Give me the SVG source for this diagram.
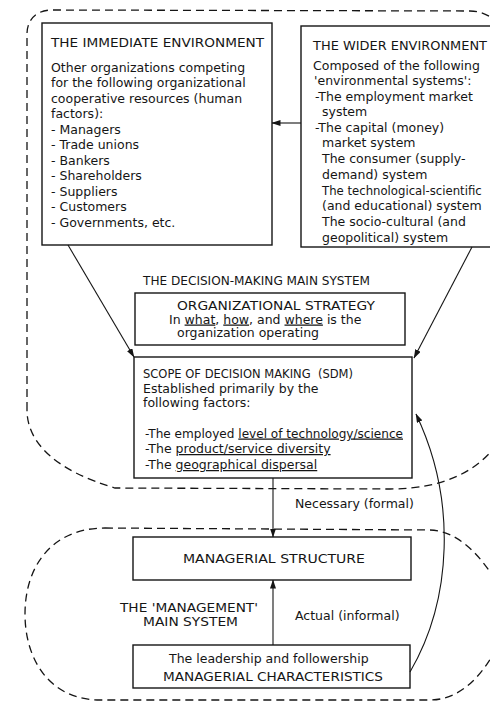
<svg xmlns="http://www.w3.org/2000/svg" width="490" height="704" viewBox="0 0 490 704">
  <defs>
    <marker id="arrow" markerWidth="9" markerHeight="6" refX="8.5" refY="3" orient="auto" markerUnits="userSpaceOnUse">
      <path d="M0,0 L9,3 L0,6 Z" fill="#151515"/>
    </marker>
  </defs>
  <style>
    text { font-family: "DejaVu Sans", "Liberation Sans", sans-serif; font-size: 12.5px; fill: #151515; }
    .box { fill: none; stroke: #151515; stroke-width: 1.4; }
    .region { fill: none; stroke: #151515; stroke-width: 1.3; stroke-dasharray: 8 5; }
    .conn { fill: none; stroke: #151515; stroke-width: 1.1; marker-end: url(#arrow); }
    .u { text-decoration: underline; }
    .narrow { font-size: 11.7px; }
  </style>
  <rect width="490" height="704" fill="#ffffff"/>

  <!-- dashed system boundaries -->
  <g id="regions">
    <path id="decision-region" class="region" d="M 27 410 L 27 34 C 27 20 36 10 52 10 L 470 11 C 480 11 487 14 498 22 L 500 440 C 480 470 445 489 390 489 L 115 488 C 60 472 27 445 27 410 Z"/>
    <path id="management-region" class="region" d="M 105 528 L 430 530 C 457 531 480 553 500 588 L 500 640 C 485 675 460 700 430 700 L 100 700 C 50 700 25 660 25 614 C 25 566 52 528 105 528 Z"/>
    <text x="143" y="284.5" textLength="227" lengthAdjust="spacingAndGlyphs">THE DECISION-MAKING MAIN SYSTEM</text>
    <text x="120" y="611.5" textLength="138" lengthAdjust="spacingAndGlyphs">THE 'MANAGEMENT'</text>
    <text x="143" y="625.5" textLength="95" lengthAdjust="spacingAndGlyphs">MAIN SYSTEM</text>
  </g>

  <!-- immediate environment -->
  <g id="immediate-environment">
    <rect class="box" x="42" y="23" width="230" height="222"/>
    <text x="51" y="47" textLength="213" lengthAdjust="spacingAndGlyphs">THE IMMEDIATE ENVIRONMENT</text>
    <text x="51" y="71.5">Other organizations competing</text>
    <text x="51" y="87">for the following organizational</text>
    <text x="51" y="102.5">cooperative resources (human</text>
    <text x="51" y="118">factors):</text>
    <text x="51" y="133.5">- Managers</text>
    <text x="51" y="149">- Trade unions</text>
    <text x="51" y="164.5">- Bankers</text>
    <text x="51" y="180">- Shareholders</text>
    <text x="51" y="195.5">- Suppliers</text>
    <text x="51" y="211">- Customers</text>
    <text x="51" y="226.5">- Governments, etc.</text>
  </g>

  <!-- wider environment -->
  <g id="wider-environment">
    <rect class="box" x="301" y="26" width="200" height="221"/>
    <text x="313" y="50" textLength="174" lengthAdjust="spacingAndGlyphs">THE WIDER ENVIRONMENT</text>
    <text x="313" y="69.5">Composed of the following</text>
    <text x="314" y="85">'environmental systems':</text>
    <text x="315" y="100.5">-The employment market</text>
    <text x="322" y="116">system</text>
    <text x="315" y="131.5">-The capital (money)</text>
    <text x="322" y="147">market system</text>
    <text x="322" y="163">The consumer (supply-</text>
    <text x="322" y="178.5">demand) system</text>
    <text class="narrow" x="322" y="194.5">The technological-scientific</text>
    <text x="322" y="210">(and educational) system</text>
    <text x="322" y="226">The socio-cultural (and</text>
    <text x="322" y="241.5">geopolitical) system</text>
  </g>

  <!-- organizational strategy -->
  <g id="organizational-strategy">
    <rect class="box" x="135" y="293" width="270" height="52"/>
    <text x="177" y="309.5" textLength="198" lengthAdjust="spacingAndGlyphs">ORGANIZATIONAL STRATEGY</text>
    <text x="169" y="323.5">In <tspan class="u">what</tspan>, <tspan class="u">how</tspan>, and <tspan class="u">where</tspan> is the</text>
    <text x="177" y="337">organization operating</text>
  </g>

  <!-- scope of decision making -->
  <g id="scope-of-decision-making">
    <rect class="box" x="134" y="357" width="278" height="121"/>
    <text x="143" y="377.5" textLength="210" lengthAdjust="spacingAndGlyphs" xml:space="preserve">SCOPE OF DECISION MAKING  (SDM)</text>
    <text x="143" y="392.5">Established primarily by the</text>
    <text x="143" y="407">following factors:</text>
    <text x="145" y="437.5" textLength="258" lengthAdjust="spacingAndGlyphs">-The employed <tspan class="u">level of technology/science</tspan></text>
    <text x="145" y="453">-The <tspan class="u">product/service diversity</tspan></text>
    <text x="145" y="469">-The <tspan class="u">geographical dispersal</tspan></text>
  </g>

  <!-- managerial structure -->
  <g id="managerial-structure">
    <rect class="box" x="133" y="537" width="278" height="43"/>
    <text x="183" y="563" textLength="182" lengthAdjust="spacingAndGlyphs">MANAGERIAL STRUCTURE</text>
  </g>

  <!-- managerial characteristics -->
  <g id="managerial-characteristics">
    <rect class="box" x="133" y="645" width="277" height="43"/>
    <text x="169" y="662.5">The leadership and followership</text>
    <text x="163" y="680.5" textLength="220" lengthAdjust="spacingAndGlyphs">MANAGERIAL CHARACTERISTICS</text>
  </g>

  <!-- connectors -->
  <g id="connectors">
    <line class="conn" x1="301" y1="123" x2="272" y2="123"/>
    <line class="conn" x1="68" y1="245" x2="134" y2="357"/>
    <line class="conn" x1="472" y1="247" x2="414" y2="358"/>
    <line class="conn" x1="273" y1="478" x2="273" y2="537"/>
    <text x="295" y="507.5">Necessary (formal)</text>
    <line class="conn" x1="273" y1="645" x2="273" y2="580"/>
    <text x="295" y="619.5">Actual (informal)</text>
    <path class="conn" d="M 410 672 C 452 600 457 500 416 414"/>
  </g>
</svg>
